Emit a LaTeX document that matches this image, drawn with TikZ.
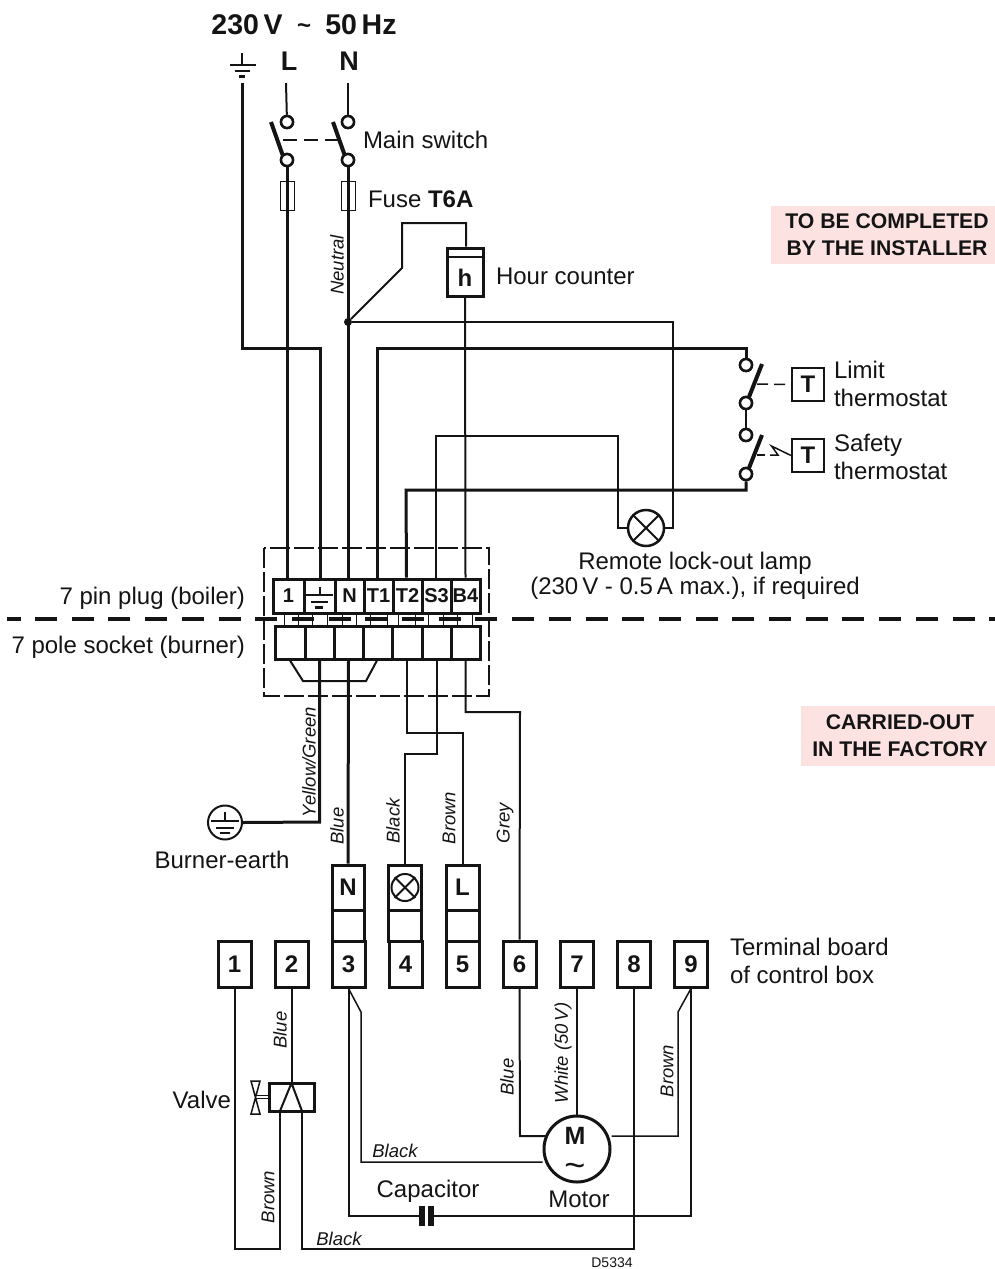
\documentclass[tikz,border=0pt]{standalone}
\usepackage{fontspec}
\setmainfont{Liberation Sans}
\definecolor{notepink}{RGB}{253,226,226}
\definecolor{ink}{RGB}{20,20,20}
\newcommand{\fsz}[1]{\fontsize{#1}{#1}\selectfont}
\begin{document}
\begin{tikzpicture}[
    x=1pt, y=-1pt, color=ink,
    txt/.style={font=\fsz{24}, inner sep=0pt, outer sep=0pt},
    wirelabel/.style={font=\fsz{18.5}\itshape, inner sep=0pt, rotate=90},
    flatlabel/.style={font=\fsz{18.5}\itshape, inner sep=0pt},
    letter/.style={font=\fsz{24}\bfseries, inner sep=0pt},
    fatwire/.style={line width=3pt},
    wire/.style={line width=2pt},
    thinwire/.style={line width=1.5pt},
    blade/.style={line width=4pt},
    contact/.style={circle, draw, fill=white, line width=2.5pt, minimum size=12pt, inner sep=0pt},
    fuse/.style={rectangle, draw, line width=1pt, minimum width=14pt, minimum height=29pt, inner sep=0pt},
    plugpin/.style={rectangle, draw, line width=3pt, minimum height=34pt, inner sep=0pt, font=\fsz{20}\bfseries},
    socket/.style={rectangle, draw, line width=3pt, minimum height=33pt, inner sep=0pt},
    terminal/.style={rectangle, draw, line width=3pt, minimum width=33pt, minimum height=46pt, inner sep=0pt, font=\fsz{24}\bfseries},
    sensor/.style={rectangle, draw, line width=2pt, minimum width=32pt, minimum height=33pt, inner sep=0pt, font=\fsz{24}\bfseries},
    lampc/.style={circle, draw, line width=2.5pt, minimum size=36pt, inner sep=0pt},
    note/.style={font=\fontsize{21.2}{27}\selectfont\bfseries, align=center, inner sep=0pt},
]
\useasboundingbox (0,0) rectangle (995,1269);

% Notes
\node[rectangle, fill=notepink, minimum width=224pt, minimum height=58pt, inner sep=0pt] (pinktop) at (883,235) {};
\node[note] (notetop) at (887,235) {TO BE COMPLETED\\BY THE INSTALLER};
\node[rectangle, fill=notepink, minimum width=194pt, minimum height=60pt, inner sep=0pt] (pinkbot) at (898,736) {};
\node[note] (notebot) at (900,736) {CARRIED-OUT\\IN THE FACTORY};

% Supply
\node[font=\fsz{28.5}\bfseries, inner sep=0pt] (title) at (304,25) {230\,V\hspace{0.5em}\raisebox{0.1ex}{\fsz{24}\textasciitilde}\hspace{0.5em}50\,Hz};
\node[font=\fsz{27}\bfseries, inner sep=0pt] (supL) at (289,61) {L};
\node[font=\fsz{27}\bfseries, inner sep=0pt] (supN) at (349,61) {N};
\coordinate (gndtop) at (242,83);
\coordinate (Ltop) at (286,83);
\coordinate (Ntop) at (348,83);
\draw[wire] (242,53) -- (242,65);
\draw[wire] (230,65) -- (256,65);
\draw[wire] (235,71) -- (250,71);
\draw[line width=2.5pt] (239,76.5) -- (245,76.5);

% Main switch
\node[contact] (Lsw1) at (287,122) {};
\node[contact] (Lsw2) at (287,160) {};
\node[contact] (Nsw1) at (348,122) {};
\node[contact] (Nsw2) at (348,160) {};
\node[fuse] (Lfuse) at (287,195.5) {};
\node[fuse] (Nfuse) at (348.5,195.5) {};
\coordinate (Lblade) at (283,140);
\coordinate (Nblade) at (339,140);
\node[txt, anchor=west] (swlabel) at (363,140) {Main switch};
\node[txt, anchor=west] (fuselabel) at (368,199) {Fuse \textbf{T6A}};
\node[wirelabel] (neutral) at (337,265) {Neutral};

% Hour counter
\node[rectangle, draw, line width=3pt, minimum width=36pt, minimum height=48pt, inner sep=0pt] (hour) at (465,272) {};
\node[letter] (hourh) at (465,278) {h};
\node[txt, anchor=west] (hourlabel) at (496,276) {Hour counter};
\draw[wire] (hour.north west) ++(0,10) -- ++(36,0);
\node[circle, fill, minimum size=8pt, inner sep=0pt] (nodeN) at (348,322) {};

% Thermostats
\node[contact] (lim1) at (746,365) {};
\node[contact] (lim2) at (746,403) {};
\node[contact] (saf1) at (746,435) {};
\node[contact] (saf2) at (746,474) {};
\node[sensor] (tlim) at (808,384.5) {T};
\node[sensor] (tsaf) at (808,455.5) {T};
\node[txt, anchor=west] (limlabel1) at (834,370) {Limit};
\node[txt, anchor=west] (limlabel2) at (834,398) {thermostat};
\node[txt, anchor=west] (saflabel1) at (834,445) {Safety};
\node[txt, anchor=west] (saflabel2) at (834,471) {thermostat};

% Lamp
\node[lampc] (lamp) at (646,528) {};
\draw[wire] (lamp.45) -- (lamp.225);
\draw[wire] (lamp.135) -- (lamp.315);
\node[txt] (lamplabel1) at (695,563) {Remote lock-out lamp};
\node[txt] (lamplabel2) at (695,588) {(230\,V - 0.5\,A max.), if required};

% Plug and socket
\draw[line width=1.5pt, dash pattern=on 20pt off 4pt] (264,548) rectangle (489,696);
\node[plugpin, minimum width=31pt] (pin1) at (288.5,596) {1};
\node[plugpin, minimum width=31pt] (pinE) at (319.5,596) {};
\node[plugpin, minimum width=29pt] (pinN) at (349.5,596) {N};
\node[plugpin, minimum width=29pt] (pinT1) at (378.5,596) {T1};
\node[plugpin, minimum width=29pt] (pinT2) at (407.5,596) {T2};
\node[plugpin, minimum width=29pt] (pinS3) at (436.5,596) {S3};
\node[plugpin, minimum width=29pt] (pinB4) at (465.5,596) {B4};
\draw[wire] (320,587) -- (320,595);
\draw[wire] (306,595) -- (333,595);
\draw[wire] (311,602) -- (328,602);
\draw[line width=2.5pt] (315,607.5) -- (323,607.5);
\node[socket, minimum width=30pt] (sock1) at (290,642.5) {};
\node[socket, minimum width=29pt] (sockE) at (319.5,642.5) {};
\node[socket, minimum width=29pt] (sockN) at (348.5,642.5) {};
\node[socket, minimum width=29pt] (sockT1) at (377.5,642.5) {};
\node[socket, minimum width=30pt] (sockT2) at (407,642.5) {};
\node[socket, minimum width=29pt] (sockS3) at (436.5,642.5) {};
\node[socket, minimum width=29pt] (sockB4) at (465.5,642.5) {};
\node[txt, anchor=east] (pluglabel) at (245,598) {7 pin plug (boiler)};
\node[txt, anchor=east] (socklabel) at (245,647) {7 pole socket (burner)};

% Pins between plug and socket
\draw[line width=1pt] (284,613) -- (284,626) (298,613) -- (298,626);
\draw[line width=1pt] (312,613) -- (312,626) (327,613) -- (327,626);
\draw[line width=1pt] (342,613) -- (342,626) (356,613) -- (356,626);
\draw[line width=1pt] (370,613) -- (370,626) (387,613) -- (387,626);
\draw[line width=1pt] (398,613) -- (398,626) (415,613) -- (415,626);
\draw[line width=1pt] (428,613) -- (428,626) (443,613) -- (443,626);
\draw[line width=1pt] (457,613) -- (457,626) (472,613) -- (472,626);

% Divider
\draw[line width=3.5pt] (7,619) -- (21,619);
\draw[line width=3.5pt, dash pattern=on 22pt off 14.7pt] (35,619) -- (995,619);

% Wires above the plug
\draw[fatwire] (gndtop) -- (242,348) -- (320,348) -- (pinE.north -| 320,0);
\draw[wire] (Ltop) -- (Lsw1);
\draw[wire] (Ntop) -- (Nsw1);
\draw[fatwire] (Lsw2) -- (pin1.north -| Lsw2);
\draw[fatwire] (Nsw2) -- (pinN.north -| Nsw2);
\draw[wire] (nodeN) -- (402,268) -- (402,223) -- (466,223) -- (hour.north -| 466,0);
\draw[wire] (hour.south) -- (pinB4.north);
\draw[wire] (nodeN) -- (673,322) -- (673,528) -- (lamp.east);
\draw[wire] (lamp.west) -- (618,528) -- (618,436) -- (436,436) -- (pinS3.north -| 436,0);
\draw[fatwire] ([xshift=-1.5pt]pinT1.north) -- (377,348) -- (746,348) -- (lim1);
\draw[fatwire] ([xshift=-1pt]pinT2.north) -- (406,490) -- (746,490) -- (saf2);
\draw[wire] (lim2) -- (saf1);
\draw[blade] (271,122) -- (283,156);
\draw[blade] (333,122) -- (345,156);
\draw[blade] (762,364) -- (749,397);
\draw[blade] (762,435) -- (749,468);
\node[contact] at (Lsw1) {};
\node[contact] at (Lsw2) {};
\node[contact] at (Nsw1) {};
\node[contact] at (Nsw2) {};
\node[contact] at (lim1) {};
\node[contact] at (lim2) {};
\node[contact] at (saf1) {};
\node[contact] at (saf2) {};
\draw[thinwire, dash pattern=on 14pt off 7pt] (Lblade) -- (Nblade);
\coordinate (limblade) at (757,384);
\coordinate (safblade) at (757,455);
\draw[thinwire, dash pattern=on 11pt off 6pt] (limblade) -- (tlim.west);
\draw[thinwire] (safblade) -- (765,455);
\draw[thinwire] (770,455) -- (778,455) -- (771.5,446) -- (tsaf.west);

% Earth of the burner
\node[circle, draw, line width=2pt, minimum size=34pt, inner sep=0pt] (earth) at (225,822.5) {};
\draw[wire] (225,812) -- (225,821);
\draw[wire] (211,821) -- (239,821);
\draw[wire] (216,828) -- (234,828);
\draw[wire] (220,833) -- (230,833);
\node[txt] (earthlabel) at (222,860) {Burner-earth};

% Terminal board
\node[rectangle, draw, line width=3pt, minimum width=32pt, minimum height=45pt, inner sep=0pt, font=\fsz{24}\bfseries] (boxN) at (348,887.5) {N};
\node[rectangle, draw, line width=3pt, minimum width=32pt, minimum height=31pt, inner sep=0pt] (gapN) at (348,925.5) {};
\node[rectangle, draw, line width=3pt, minimum width=33pt, minimum height=45pt, inner sep=0pt] (boxX) at (405,887.5) {};
\node[rectangle, draw, line width=3pt, minimum width=33pt, minimum height=31pt, inner sep=0pt] (gapX) at (405,925.5) {};
\node[rectangle, draw, line width=3pt, minimum width=33pt, minimum height=45pt, inner sep=0pt, font=\fsz{24}\bfseries] (boxL) at (462.5,887.5) {L};
\node[rectangle, draw, line width=3pt, minimum width=33pt, minimum height=31pt, inner sep=0pt] (gapL) at (462.5,925.5) {};
\node[circle, draw, line width=2pt, minimum size=27pt, inner sep=0pt] (boxlamp) at (405,887.5) {};
\draw[wire] (boxlamp.45) -- (boxlamp.225);
\draw[wire] (boxlamp.135) -- (boxlamp.315);
\node[terminal] (term1) at (234.5,964) {1};
\node[terminal] (term2) at (291.5,964) {2};
\node[terminal] (term3) at (348.5,964) {3};
\node[terminal] (term4) at (405.5,964) {4};
\node[terminal] (term5) at (462.5,964) {5};
\node[terminal] (term6) at (519.5,964) {6};
\node[terminal] (term7) at (577,964) {7};
\node[terminal] (term8) at (634,964) {8};
\node[terminal] (term9) at (691,964) {9};
\node[txt, anchor=west] (termlabel1) at (730,947) {Terminal board};
\node[txt, anchor=west] (termlabel2) at (730,975) {of control box};

% Wires below the socket
\draw[wire] (sock1.south -| 290,0) -- (303,681) -- (366,681) -- (sockT1.south -| 377,0);
\draw[fatwire] (sockE.south) -- (319.5,822) -- (earth.east);
\draw[fatwire] (sockN.south) -- (boxN.north);
\draw[wire] (sockT2.south) -- (407,733) -- (462.5,733) -- (boxL.north);
\draw[wire] (sockS3.south) -- (436.5,754) -- (405,754) -- (boxX.north);
\draw[wire] (sockB4.south) -- (465.5,712) -- (520,712) -- (term6.north);

% Valve
\node[rectangle, draw, line width=3pt, minimum width=45pt, minimum height=28pt, inner sep=0pt] (valve) at (291.5,1097) {};
\draw[wire] (280,1111) -- (291.5,1083) -- (302,1111);
\draw[line width=1.5pt] (251,1081) -- (260,1081) -- (251,1114) -- (260,1114) -- cycle;
\draw[line width=1.2pt] (256,1095.5) -- (269,1095.5) (256,1098.5) -- (269,1098.5);
\node[txt, anchor=east] (valvelabel) at (231,1100) {Valve};

% Motor
\node[circle, draw, line width=3pt, minimum size=66pt, inner sep=0pt] (motor) at (577,1149) {};
\node[font=\fsz{25}\bfseries, inner sep=0pt] (motorM) at (575,1136) {M};
\node[font=\fsz{36}, inner sep=0pt] (motorac) at (575,1170) {\textasciitilde};
\node[txt] (motorlabel) at (579,1199) {Motor};

% Capacitor
\coordinate (capA) at (422,1216);
\coordinate (capB) at (431,1216);
\draw[line width=6pt] (422,1206) -- (422,1226);
\draw[line width=6pt] (431,1206) -- (431,1226);
\node[txt] (caplabel) at (428,1191) {Capacitor};

% Wires below the terminal board
\draw[wire] (term1.south) -- (234.5,1249) -- (280,1249) -- (280,1111);
\draw[wire] (term2.south) -- (valve.north);
\draw[wire] (term8.south) -- (634,1249) -- (302,1249) -- (302,1111);
\draw[wire] (term3.south) -- (348.5,1216) -- (capA);
\draw[wire] (capB) -- (691,1216) -- (term9.south);
\draw[thinwire] (term3.south) -- (361,1012) -- (361,1162) -- (motor.west |- 0,1162);
\draw[thinwire] (term9.south) -- (678,1012) -- (678,1136) -- (motor.east |- 0,1136);
\draw[wire] (term6.south) -- (520,1136) -- (546,1136);
\draw[wire] (term7.south) -- (motor.north);

% Wire colours
\node[wirelabel] (yellow) at (309,762) {Yellow/Green};
\node[wirelabel] (blue1) at (337,826) {Blue};
\node[wirelabel] (black1) at (393,821) {Black};
\node[wirelabel] (brown1) at (449,818) {Brown};
\node[wirelabel] (grey) at (505,823) {Grey};
\node[wirelabel] (blue2) at (280,1030) {Blue};
\node[wirelabel] (blue3) at (507,1077) {Blue};
\node[wirelabel] (white) at (563,1053) {White (50\,V)};
\node[wirelabel] (brown2) at (667,1071) {Brown};
\node[wirelabel] (brown3) at (268,1197) {Brown};
\node[flatlabel] (black2) at (395,1151) {Black};
\node[flatlabel] (black3) at (339,1239) {Black};
\node[font=\fsz{14}, inner sep=0pt] (drawno) at (612,1263) {D5334};

\end{tikzpicture}
\end{document}
